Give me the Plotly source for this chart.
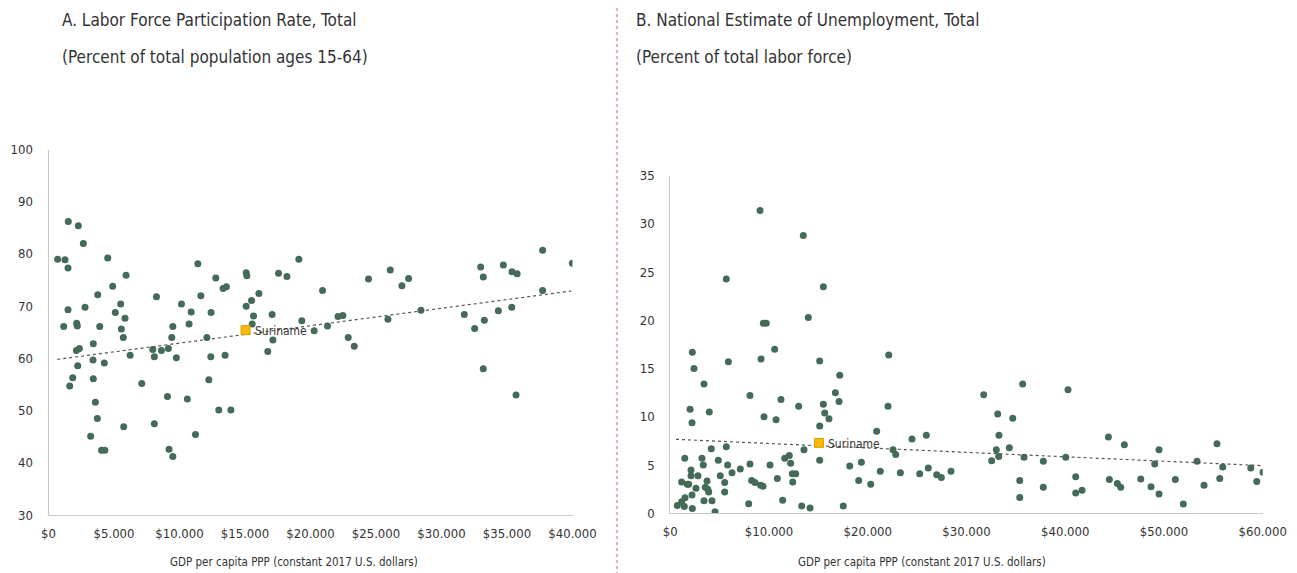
import plotly.graph_objects as go

# GDP per capita PPP (thousand US$) and labor force participation (%)
lfp_gdp = [0.70, 1.26, 1.51, 1.49, 2.28, 2.66, 1.49, 2.79, 1.16, 2.15, 2.20, 3.76, 4.52, 4.90,
           3.91, 5.51, 5.10, 5.92, 5.56, 5.84, 5.71, 8.24, 9.49, 9.41, 10.15, 10.73, 10.89, 11.40,
           11.63, 12.09, 12.41, 12.77, 13.33, 13.58, 15.09, 15.14, 15.09, 15.50, 15.65, 15.55,
           16.06, 17.07, 17.13, 17.56, 18.20, 19.11, 19.34, 3.42, 2.13, 2.36, 3.40, 2.23, 1.85,
           1.62, 3.42, 4.26, 6.23, 3.58, 3.73, 3.22, 4.05, 4.30, 5.74, 7.12, 7.96, 8.08, 8.62,
           9.15, 9.76, 9.08, 8.08, 9.20, 9.49, 10.60, 11.22, 12.24, 12.39, 13.48, 13.00, 13.92,
           16.74, 20.92, 20.28, 21.30, 22.10, 22.47, 22.88, 23.34, 24.43, 26.09, 26.98, 27.49,
           25.91, 28.43, 31.74, 32.53, 32.99, 33.19, 33.27, 33.19, 34.34, 34.72, 35.38, 35.77,
           35.36, 35.69, 37.72, 37.72, 39.99]
lfp_val = [79.0, 78.9, 86.2, 77.3, 85.4, 82.0, 69.3, 69.8, 66.1, 66.7, 66.2, 72.2, 79.2, 73.8,
           66.1, 70.4, 68.8, 75.9, 65.6, 67.7, 64.0, 71.8, 66.1, 64.0, 70.4, 66.6, 68.9, 78.1,
           72.0, 64.0, 68.8, 75.4, 73.4, 73.7, 76.4, 75.8, 70.0, 71.1, 68.1, 66.6,
           72.4, 68.4, 63.5, 76.3, 75.7, 79.0, 67.2, 62.8, 61.5, 61.9, 59.7, 58.6, 56.3,
           54.7, 56.1, 59.1, 60.6, 51.6, 48.5, 45.1, 42.4, 42.4, 46.9, 55.2, 61.7, 60.3, 61.5,
           61.9, 60.1, 52.7, 47.5, 42.6, 41.2, 52.2, 45.4, 55.9, 60.3, 60.6, 50.1, 50.1,
           61.3, 73.0, 65.3, 66.2, 68.0, 68.2, 64.0, 62.3, 75.2, 76.9, 73.9, 75.3,
           67.5, 69.2, 68.4, 65.7, 77.5, 75.6, 67.3, 58.0, 69.1, 77.9, 76.6, 76.2,
           69.8, 53.0, 80.7, 73.0, 78.2]
lfp_trend_gdp = [0.67, 39.9]
lfp_trend_val = [59.8, 72.9]
lfp_suriname = (15.04, 65.4)

# GDP per capita PPP (thousand US$) and unemployment (%)
unemp_gdp = [9.09, 13.47, 5.67, 15.50, 9.42, 9.72, 13.98, 2.23, 10.57, 22.12, 2.40, 5.88, 9.19,
             15.13, 3.41, 17.16, 16.72, 17.09, 8.07, 11.21, 13.00, 15.50, 15.64, 16.07, 22.05,
             2.00, 3.95, 2.20, 9.49, 10.71, 15.13, 20.90, 24.48, 25.93, 4.15, 5.67, 13.54, 22.56,
             22.83, 1.46, 3.21, 4.86, 11.59, 12.05, 15.13, 3.34, 5.81, 8.07, 10.10, 12.19, 7.09,
             18.17, 19.35, 2.10, 6.25, 5.06, 2.10, 2.80, 12.36, 12.70, 10.84, 3.72, 1.15, 1.72,
             1.86, 5.51, 8.24, 8.58, 9.15, 9.39, 12.40, 19.08, 20.30, 21.27, 23.30, 25.26, 26.13,
             26.98, 27.45, 28.43, 2.60, 3.55, 3.89, 3.80, 5.51, 2.20, 1.49, 1.15, 0.71, 1.42,
             2.23, 3.41, 4.22, 4.53, 7.94, 11.38, 13.31, 14.15, 17.52, 31.74, 35.69, 40.28,
             33.16, 34.68, 33.29, 33.02, 34.34, 32.55, 33.26, 35.83, 37.78, 40.05, 35.39, 35.39,
             37.78, 41.06, 41.06, 41.70, 44.37, 45.99, 44.47, 45.28, 45.62, 47.65, 48.69, 49.50,
             49.06, 49.50, 51.15, 51.96, 53.35, 54.06, 55.37, 55.95, 55.65, 58.79, 60.03, 59.40]
unemp_val = [31.4, 28.8, 24.3, 23.5, 19.7, 19.7, 20.3, 16.7, 17.0, 16.4, 15.0, 15.7, 16.0,
             15.8, 13.4, 14.3, 12.5, 11.6, 12.2, 11.8, 11.1, 11.3, 10.4, 9.8, 11.1,
             10.8, 10.5, 9.4, 10.0, 9.7, 9.05, 8.5, 7.7, 8.1, 6.7, 6.9, 6.6, 6.6,
             6.1, 5.7, 5.7, 5.5, 5.7, 6.0, 5.5, 5.0, 5.0, 5.1, 5.0, 5.2, 4.6,
             4.9, 5.3, 4.5, 4.2, 3.9, 3.9, 3.9, 4.1, 4.1, 3.6, 3.35, 3.25, 3.0,
             3.0, 3.2, 3.4, 3.2, 2.9, 2.8, 3.25, 3.4, 3.0, 4.35, 4.2, 4.1, 4.7,
             4.0, 3.7, 4.35, 2.6, 2.7, 2.2, 2.5, 2.2, 1.9, 1.6, 1.2, 0.8, 0.7,
             0.5, 1.3, 1.3, 0.17, 1.0, 1.35, 0.76, 0.55, 0.76, 12.3, 13.4, 12.8,
             10.3, 9.85, 8.1, 6.6, 6.8, 5.45, 5.9, 5.8, 5.4, 5.8, 3.4, 1.65,
             2.7, 3.8, 2.1, 2.4, 7.9, 7.1, 3.5, 3.1, 2.7, 3.55, 2.75, 6.6,
             5.1, 2.0, 3.5, 0.96, 5.4, 2.9, 7.2, 4.8, 3.6, 4.7, 4.25, 3.3]
unemp_trend_gdp = [0.58, 60.0]
unemp_trend_val = [7.67, 4.94]
unemp_suriname = (15.06, 7.3)

lfp_ticks = [0, 5000, 10000, 15000, 20000, 25000, 30000, 35000, 40000]
lfp_ticktext = ["$0", "$5.000", "$10.000", "$15.000", "$20.000", "$25.000", "$30.000", "$35.000", "$40.000"]
unemp_ticks = [0, 10000, 20000, 30000, 40000, 50000, 60000]
unemp_ticktext = ["$0", "$10.000", "$20.000", "$30.000", "$40.000", "$50.000", "$60.000"]

FONT = "DejaVu Sans Condensed, Liberation Sans Narrow, sans-serif"
DOT = "#436b57"
TXT = "#333333"
W, H = 1297, 573
OFF = 8  # the page body margin pushes the figure 8px right and down


def px(v):
    return (v - OFF) / W


def py(v):
    return 1 - (v - OFF) / H


fig = go.Figure()

panels = [
    ("x", "y", lfp_gdp, lfp_val, lfp_trend_gdp, lfp_trend_val, lfp_suriname),
    ("x2", "y2", unemp_gdp, unemp_val, unemp_trend_gdp, unemp_trend_val, unemp_suriname),
]
for xa, ya, gx, gy, tx, ty, sur in panels:
    fig.add_trace(go.Scatter(
        x=[v * 1000 for v in gx], y=gy, mode="markers", xaxis=xa, yaxis=ya,
        marker=dict(size=7, color=DOT), hoverinfo="skip", showlegend=False))
    fig.add_trace(go.Scatter(
        x=[v * 1000 for v in tx], y=ty, mode="lines", xaxis=xa, yaxis=ya,
        line=dict(color="#555555", width=1.2, dash="dot"), hoverinfo="skip", showlegend=False))
    fig.add_trace(go.Scatter(
        x=[sur[0] * 1000], y=[sur[1]], mode="markers", xaxis=xa, yaxis=ya,
        marker=dict(size=9, symbol="square", color="#f7b70f", line=dict(color="#d9a000", width=1)),
        hoverinfo="skip", showlegend=False))
    fig.add_annotation(x=sur[0] * 1000, y=sur[1], xref=xa, yref=ya, text="Suriname",
                       showarrow=False, xanchor="left", xshift=7, yshift=-1,
                       font=dict(family=FONT, size=12, color=TXT))

axis_common = dict(showgrid=False, zeroline=False, showline=True, linecolor="#c8c8c8",
                   linewidth=1, ticks="outside", tickcolor="rgba(0,0,0,0)", automargin=False,
                   tickfont=dict(family=FONT, size=13, color=TXT))

fig.update_layout(
    width=W, height=H,
    margin=dict(l=0, r=0, t=0, b=0, autoexpand=False),
    paper_bgcolor="white", plot_bgcolor="white",
    font=dict(family=FONT, color=TXT),
    xaxis=dict(domain=[px(48.5), px(572.5)], range=[0, 40000], tickvals=lfp_ticks,
               ticktext=lfp_ticktext, ticklen=6, anchor="y", **axis_common),
    yaxis=dict(domain=[py(515), py(149.5)], range=[30, 100], dtick=10, ticklen=12,
               anchor="x", **axis_common),
    xaxis2=dict(domain=[px(670.3), px(1262.7)], range=[0, 60000], tickvals=unemp_ticks,
                ticktext=unemp_ticktext, ticklen=6, anchor="y2", **axis_common),
    yaxis2=dict(domain=[py(513.3), py(175.7)], range=[0, 35], dtick=5, ticklen=12,
                anchor="x2", **axis_common),
)

# x axis titles (placed off-centre like the original)
for xc in [293.5, 922]:
    fig.add_annotation(x=px(xc), y=py(562), xref="paper", yref="paper",
                       text="GDP per capita PPP (constant 2017 U.S. dollars)",
                       showarrow=False, xanchor="center", yanchor="middle",
                       font=dict(family=FONT, size=11.5, color=TXT))

# panel titles
titles = [
    (60, "A. Labor Force Participation Rate, Total", "(Percent of total population ages 15-64)"),
    (634, "B. National Estimate of Unemployment, Total", "(Percent of total labor force)"),
]
for x0, line1, line2 in titles:
    for txt, yc in [(line1, 20), (line2, 57)]:
        fig.add_annotation(x=px(x0), y=py(yc), xref="paper", yref="paper", text=txt,
                           showarrow=False, xanchor="left", yanchor="middle",
                           font=dict(family=FONT, size=17, color=TXT))

# red dotted divider between panels
fig.add_shape(type="line", xref="paper", yref="paper", x0=px(617), x1=px(617), y0=0, y1=py(5),
              line=dict(color="#e06060", width=1, dash="dot"))

fig.write_html("out.html")
